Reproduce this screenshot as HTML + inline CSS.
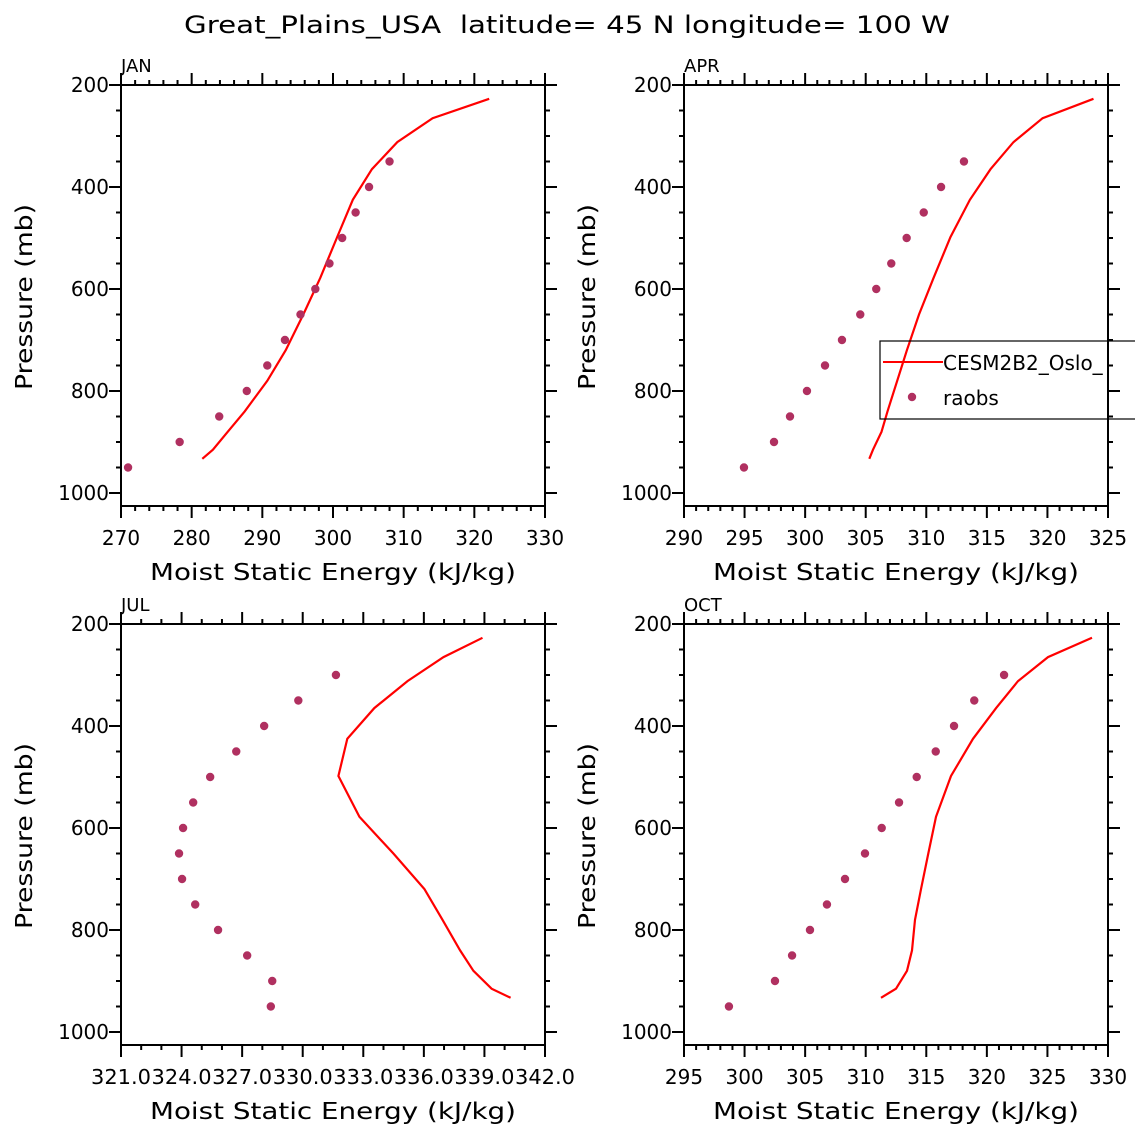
<!DOCTYPE html>
<html><head><meta charset="utf-8"><style>
html,body{margin:0;padding:0;background:#fff;}
svg{display:block;font-family:"DejaVu Sans","Liberation Sans",sans-serif;}
</style></head><body>
<svg id="chart" width="1135" height="1135" viewBox="0 0 1135 1135" xmlns="http://www.w3.org/2000/svg">
<text x="567" y="33" font-size="24" text-anchor="middle" textLength="766" lengthAdjust="spacingAndGlyphs" style="white-space:pre">Great_Plains_USA  latitude= 45 N longitude= 100 W</text>
</svg>
<script>
const modelPressure = [227, 265, 312, 365, 425, 498, 578, 650, 720, 780, 840, 880, 915, 933];
const obsPressure = [300, 350, 400, 450, 500, 550, 600, 650, 700, 750, 800, 850, 900, 950];
const janModel = [322.1, 314.1, 309.1, 305.5, 302.8, 300.6, 298.2, 295.8, 293.3, 290.7, 287.5, 285.1, 283.0, 281.5];
const aprModel = [323.8, 319.6, 317.2, 315.3, 313.6, 312.0, 310.6, 309.4, 308.4, 307.6, 306.8, 306.3, 305.6, 305.3];
const julModel = [338.91, 336.98, 335.20, 333.56, 332.22, 331.78, 332.82, 334.50, 336.04, 336.93, 337.80, 338.46, 339.36, 340.30];
const octModel = [328.68, 325.05, 322.57, 320.76, 318.86, 317.04, 315.80, 315.17, 314.56, 314.07, 313.82, 313.41, 312.5, 311.26];
const janObs = [null, 308.0, 305.1, 303.2, 301.3, 299.5, 297.5, 295.4, 293.2, 290.7, 287.8, 283.9, 278.3, 271.0];
const aprObs = [null, 313.11, 311.22, 309.79, 308.38, 307.11, 305.87, 304.55, 303.04, 301.64, 300.15, 298.75, 297.43, 294.95];
const julObs = [331.66, 329.80, 328.11, 326.73, 325.44, 324.60, 324.10, 323.90, 324.05, 324.70, 325.83, 327.27, 328.51, 328.44];
const octObs = [321.42, 318.96, 317.29, 315.78, 314.21, 312.75, 311.32, 309.94, 308.29, 306.80, 305.40, 303.92, 302.51, 298.71];
const janTicks = ["270","280","290","300","310","320","330"];
const aprTicks = ["290","295","300","305","310","315","320","325"];
const julTicks = ["321.0","324.0","327.0","330.0","333.0","336.0","339.0","342.0"];
const octTicks = ["295","300","305","310","315","320","325","330"];
const yTicks = ["200","400","600","800","1000"];
const monthLabels = ["JAN","APR","JUL","OCT"];

const NS = "http://www.w3.org/2000/svg";
const svg = document.getElementById("chart");
function mk(tag, attrs, parent) {
  const e = document.createElementNS(NS, tag);
  for (const k in attrs) e.setAttribute(k, attrs[k]);
  (parent || svg).appendChild(e);
  return e;
}
const panels = [
  {x0:121, y0:85, xmin:270, xmax:330, ticks:janTicks, minor:5, model:janModel, obs:janObs, key:"jan"},
  {x0:684, y0:85, xmin:290, xmax:325, ticks:aprTicks, minor:5, model:aprModel, obs:aprObs, key:"apr"},
  {x0:121, y0:624, xmin:321.03, xmax:342.0, ticks:julTicks, minor:3, model:julModel, obs:julObs, key:"jul"},
  {x0:684, y0:624, xmin:295, xmax:330, ticks:octTicks, minor:5, model:octModel, obs:octObs, key:"oct"}
];
const W = 424, PPM = 0.51, BOT = 421;
panels.forEach((p, i) => {
  const g = mk("g", {});
  
  
  const xs = v => p.x0 + (v - p.xmin) / (p.xmax - p.xmin) * W;
  const ys = pr => p.y0 + (pr - 200) * PPM;
  const fr = mk("rect", {x:p.x0, y:p.y0, width:W, height:BOT, fill:"none", stroke:"#000", "stroke-width":2}, g);
  
  
  const nMaj = p.ticks.length - 1;
  for (let k = 0; k <= nMaj * p.minor; k++) {
    const x = p.x0 + k * W / (nMaj * p.minor);
    const len = (k % p.minor === 0) ? 12 : 5;
    mk("line", {x1:x, x2:x, y1:p.y0, y2:p.y0 - len, stroke:"#000", "stroke-width":2}, g);
    mk("line", {x1:x, x2:x, y1:p.y0 + BOT, y2:p.y0 + BOT + len, stroke:"#000", "stroke-width":2}, g);
  }
  const longLbl = p.ticks[0].length > 3;
  p.ticks.forEach((t, k) => {
    const attrs = {x:p.x0 + k * W / nMaj, y:p.y0 + BOT + 39, "font-size":20, "text-anchor":"middle"};
    if (longLbl) { attrs.textLength = 60; attrs.lengthAdjust = "spacingAndGlyphs"; }
    const tx = mk("text", attrs, g);
    
    
    tx.textContent = t;
  });
  for (let pr = 200; pr <= 1000; pr += 50) {
    const y = ys(pr);
    const len = (pr % 200 === 0) ? 12 : 5;
    mk("line", {x1:p.x0, x2:p.x0 - len, y1:y, y2:y, stroke:"#000", "stroke-width":2}, g);
    mk("line", {x1:p.x0 + W, x2:p.x0 + W + len, y1:y, y2:y, stroke:"#000", "stroke-width":2}, g);
  }
  yTicks.forEach(t => {
    const ty = mk("text", {x:p.x0 - 12, y:ys(+t) + 7, "font-size":20, "text-anchor":"end"}, g);
    
    
    ty.textContent = t;
  });
  const xt = mk("text", {x:p.x0 + W / 2, y:p.y0 + BOT + 74, "font-size":23, "text-anchor":"middle", textLength:366, lengthAdjust:"spacingAndGlyphs"}, g);
  
  
  xt.textContent = "Moist Static Energy (kJ/kg)";
  const yt = mk("text", {x:0, y:0, "font-size":23, "text-anchor":"middle", textLength:186, lengthAdjust:"spacingAndGlyphs", transform:"translate(" + (p.x0 - 89) + "," + (p.y0 + 212) + ") rotate(-90)"}, g);
  
  
  yt.textContent = "Pressure (mb)";
  const ml = mk("text", {x:p.x0, y:p.y0 - 13, "font-size":18}, g);
  
  
  ml.textContent = monthLabels[i];
  const pts = p.model.map((v, k) => xs(v).toFixed(1) + "," + ys(modelPressure[k]).toFixed(1)).join(" ");
  const ln = mk("polyline", {points:pts, fill:"none", stroke:"#ff0000", "stroke-width":2.2}, g);
  
  
  p.obs.forEach((v, k) => {
    if (v === null) return;
    const c = mk("circle", {cx:xs(v), cy:ys(obsPressure[k]), r:4.2, fill:"#b03060"}, g);
    
    
  });
});
const lg = mk("g", {});


const lr = mk("rect", {x:880, y:341, width:270, height:78, fill:"none", stroke:"#000", "stroke-width":1.2}, lg);


const ll = mk("line", {x1:883, x2:943, y1:362, y2:362, stroke:"#ff0000", "stroke-width":2}, lg);


const lt1 = mk("text", {x:943, y:370, "font-size":20}, lg);


lt1.textContent = "CESM2B2_Oslo_";
const ld = mk("circle", {cx:912, cy:397, r:4.2, fill:"#b03060"}, lg);


const lt2 = mk("text", {x:943, y:405, "font-size":20}, lg);


lt2.textContent = "raobs";
mk("line", {x1:1108, x2:1108, y1:85, y2:506, stroke:"#000", "stroke-width":2});
</script>
</body></html>
